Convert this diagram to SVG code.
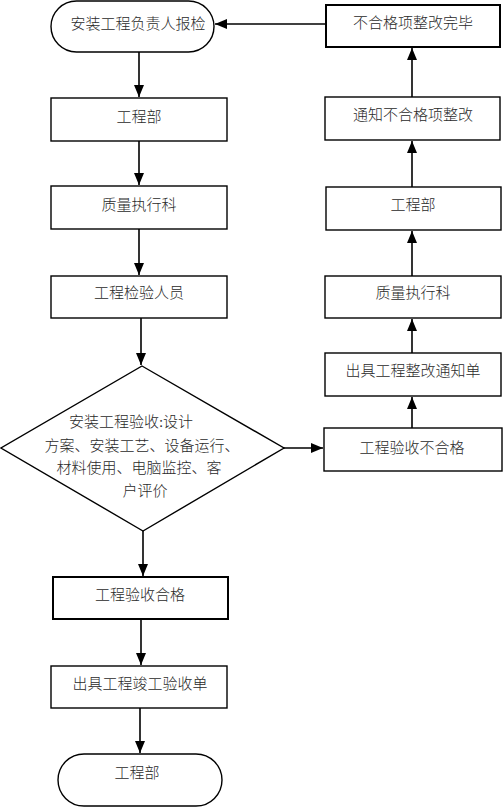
<svg xmlns="http://www.w3.org/2000/svg" width="503" height="808" viewBox="0 0 503 808">
<style>
.box{fill:#fff;stroke:#000;stroke-width:1.4}
.thick{stroke-width:2}
.t{font-family:"Liberation Serif","Noto Sans CJK SC",serif;font-size:15px;font-weight:300;fill:#2a2a2a;text-anchor:middle;dominant-baseline:central}
.c{fill:none;stroke:#000;stroke-width:1.6}
</style>
<defs>
<marker id="ah" markerUnits="userSpaceOnUse" markerWidth="12" markerHeight="12" viewBox="0 0 12 12" refX="12" refY="6" orient="auto">
<path d="M0,1 L12,6 L0,11 Z" fill="#000"/>
</marker>
</defs>
<rect width="503" height="808" fill="#fff"/>
<g id="connectors">
<line class="c" x1="139" y1="52" x2="139" y2="97" marker-end="url(#ah)"/>
<line class="c" x1="139" y1="141" x2="139" y2="185" marker-end="url(#ah)"/>
<line class="c" x1="139" y1="229" x2="139" y2="275" marker-end="url(#ah)"/>
<line class="c" x1="141" y1="318" x2="141" y2="365" marker-end="url(#ah)"/>
<line class="c" x1="143" y1="531" x2="143" y2="576" marker-end="url(#ah)"/>
<line class="c" x1="141" y1="619" x2="141" y2="665" marker-end="url(#ah)"/>
<line class="c" x1="140" y1="708" x2="140" y2="753" marker-end="url(#ah)"/>
<line class="c" x1="284" y1="448" x2="323" y2="448" marker-end="url(#ah)"/>
<line class="c" x1="412" y1="428" x2="412" y2="397" marker-end="url(#ah)"/>
<line class="c" x1="412" y1="353" x2="412" y2="319" marker-end="url(#ah)"/>
<line class="c" x1="412" y1="276" x2="412" y2="231" marker-end="url(#ah)"/>
<line class="c" x1="412" y1="187" x2="412" y2="141" marker-end="url(#ah)"/>
<line class="c" x1="412" y1="97" x2="412" y2="48" marker-end="url(#ah)"/>
<line class="c" x1="326" y1="24" x2="215" y2="24" marker-end="url(#ah)"/>
</g>
<g id="start">
<rect class="box" x="51" y="1" width="163" height="51" rx="25.5"/>
<text class="t" x="138" y="24">安装工程负责人报检</text>
</g>
<g id="gcb1">
<rect class="box" x="51" y="98" width="176" height="43"/>
<text class="t" x="139" y="117">工程部</text>
</g>
<g id="zlzxk1">
<rect class="box" x="51" y="186" width="176" height="43"/>
<text class="t" x="139" y="205">质量执行科</text>
</g>
<g id="gcjyry">
<rect class="box" x="51" y="276" width="176" height="42"/>
<text class="t" x="139" y="293">工程检验人员</text>
</g>
<g id="decision">
<polygon class="box" points="142,366 284,448 143,531 1,448"/>
<text class="t" x="131" y="422">安装工程验收:设计</text>
<text class="t" x="142" y="446">方案、安装工艺、设备运行、</text>
<text class="t" x="139" y="468">材料使用、电脑监控、客</text>
<text class="t" x="145" y="491">户评价</text>
</g>
<g id="pass">
<rect class="box thick" x="53" y="577" width="175" height="42"/>
<text class="t" x="140" y="595">工程验收合格</text>
</g>
<g id="cert">
<rect class="box" x="51" y="666" width="176" height="42"/>
<text class="t" x="140" y="684">出具工程竣工验收单</text>
</g>
<g id="end">
<rect class="box" x="58" y="754" width="164" height="52" rx="26"/>
<text class="t" x="137" y="773">工程部</text>
</g>
<g id="fail">
<rect class="box" x="324" y="428" width="178" height="43"/>
<text class="t" x="412" y="448">工程验收不合格</text>
</g>
<g id="notice">
<rect class="box" x="325" y="353" width="176" height="43"/>
<text class="t" x="413" y="371">出具工程整改通知单</text>
</g>
<g id="zlzxk2">
<rect class="box" x="325" y="276" width="176" height="42"/>
<text class="t" x="413" y="293">质量执行科</text>
</g>
<g id="gcb2">
<rect class="box" x="326" y="187" width="175" height="43"/>
<text class="t" x="413" y="205">工程部</text>
</g>
<g id="inform">
<rect class="box" x="325" y="97" width="175" height="43"/>
<text class="t" x="413" y="115">通知不合格项整改</text>
</g>
<g id="done">
<rect class="box thick" x="326" y="5" width="174" height="42"/>
<text class="t" x="413" y="23">不合格项整改完毕</text>
</g>
</svg>
